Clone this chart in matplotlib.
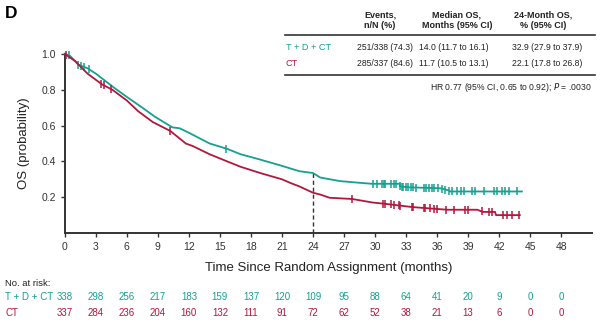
import numpy as np
import matplotlib.pyplot as plt
from matplotlib.transforms import blended_transform_factory

plt.rcParams['font.family'] = ['Liberation Sans Narrow', 'Liberation Sans', 'DejaVu Sans']

TEAL = "#16a091"
RED = "#b3173c"

# Kaplan-Meier curves (months, OS probability)
tdct_t = [0, 0.5, 1.0, 1.3, 2.2, 3.0, 4.8, 6, 7.5, 8.7, 10.4, 11.1, 12, 14, 15.7, 17,
          18.9, 21, 22.7, 24, 24.7, 26.6, 28.6, 29.7, 32.4, 32.4, 33.4, 36.3, 37.0,
          37.3, 44.2]
tdct_s = [1.0, 0.99, 0.96, 0.94, 0.92, 0.89, 0.81, 0.76, 0.70, 0.65, 0.59, 0.585,
          0.56, 0.50, 0.47, 0.44, 0.41, 0.375, 0.345, 0.335, 0.31, 0.29, 0.28, 0.275,
          0.275, 0.26, 0.255, 0.25, 0.24, 0.232, 0.232]

ct_t = [0, 0.5, 1.0, 2.2, 3.6, 4.6, 6, 7.1, 8.5, 10.2, 11.7, 12.4, 14, 15.7, 17, 18.9,
        21, 21.8, 22.7, 24, 24.7, 25.6, 27.8, 29.8, 31, 33.6, 34.7, 37, 39.9, 40.4,
        41.6, 41.7, 44]
ct_s = [1.0, 0.98, 0.96, 0.89, 0.83, 0.80, 0.74, 0.68, 0.62, 0.57, 0.50, 0.485, 0.44,
        0.40, 0.37, 0.335, 0.30, 0.28, 0.26, 0.225, 0.215, 0.197, 0.19, 0.17, 0.163,
        0.145, 0.14, 0.13, 0.13, 0.118, 0.118, 0.10, 0.10]

# censoring times
tdct_cens = [0.4, 1.3, 1.6, 1.9, 2.3, 15.6, 29.8, 30.2, 30.7, 30.9, 31.0, 31.5, 31.8,
             32.0, 32.4, 32.6, 32.7, 33.0, 33.2, 33.5, 33.7, 34.0, 34.7, 34.9, 35.2,
             35.5, 35.7, 36.1, 36.5, 36.8, 37.2, 37.4, 37.9, 38.3, 38.6, 39.4, 39.7,
             40.5, 41.5, 41.8, 42.3, 42.6, 43.0, 43.7]
ct_cens = [0.1, 3.5, 3.8, 4.5, 10.2, 27.8, 30.8, 31.0, 31.5, 31.8, 32.3, 32.4, 33.6,
           33.7, 34.7, 34.8, 35.3, 35.7, 36.0, 36.9, 37.6, 38.7, 39.0, 40.3, 41.0, 41.3,
           42.4, 42.8, 43.2, 43.9]

risk_times = list(range(0, 49, 3))
tdct_risk = [338, 298, 256, 217, 183, 159, 137, 120, 109, 95, 88, 64, 41, 20, 9, 0, 0]
ct_risk = [337, 284, 236, 204, 160, 132, 111, 91, 72, 62, 52, 38, 21, 13, 6, 0, 0]

fig = plt.figure(figsize=(6, 3.25), dpi=100)
ax = fig.add_axes([0.108, 0.283, 0.879, 0.551])

for t, s, cens, col in [(tdct_t, tdct_s, tdct_cens, TEAL), (ct_t, ct_s, ct_cens, RED)]:
    ax.plot(t, s, color=col, lw=1.3, clip_on=False, zorder=3)
    ax.plot(cens, np.interp(cens, t, s), ls="none", marker="|", ms=6, mew=1.1,
            color=col, clip_on=False, zorder=3)

# 24-month reference line
ax.plot([24, 24], [0, np.interp(24, tdct_t, tdct_s)], ls=(0, (3, 2)), color="#333333", lw=1.0)

ax.set_xlim(0, 51)
ax.set_ylim(0, 1.0)
ax.set_xticks(risk_times)
ax.set_yticks([0.2, 0.4, 0.6, 0.8, 1.0])
ax.set_yticklabels(["0.2", "0.4", "0.6", "0.8", "1.0"])
for sp in ["top", "right"]:
    ax.spines[sp].set_visible(False)
for sp in ["left", "bottom"]:
    ax.spines[sp].set_linewidth(1.4)
    ax.spines[sp].set_color("#333333")
ax.tick_params(labelsize=7.5, width=1.0, length=3, color="#333333", labelcolor="#333333")
ax.set_xlabel("Time Since Random Assignment (months)", fontsize=9.5, color="#222222", labelpad=7)
ax.set_ylabel("OS (probability)", fontsize=9.5, color="#222222", labelpad=8)

fig.text(0.008, 0.96, "D", fontsize=12.5, fontweight="bold", va="center")

# summary table
hdr_y = 1 - 20 / 325
fig.text(380 / 600, hdr_y, "Events,\nn/N (%)", ha="center", va="center", fontsize=6.5,
         fontweight="bold", linespacing=1.15, color="#222222")
fig.text(457 / 600, hdr_y, "Median OS,\nMonths (95% CI)", ha="center", va="center",
         fontsize=6.5, fontweight="bold", linespacing=1.15, color="#222222")
fig.text(543 / 600, hdr_y, "24-Month OS,\n% (95% CI)", ha="center", va="center",
         fontsize=6.5, fontweight="bold", linespacing=1.15, color="#222222")
fig.add_artist(plt.Line2D([285 / 600, 595 / 600], [1 - 35 / 325] * 2, color="#333333", lw=1.2))
fig.add_artist(plt.Line2D([285 / 600, 595 / 600], [1 - 75 / 325] * 2, color="#333333", lw=1.2))

rows = [("T + D + CT", "251/338 (74.3)", "14.0 (11.7 to 16.1)", "32.9 (27.9 to 37.9)", TEAL, 48),
        ("CT", "285/337 (84.6)", "11.7 (10.5 to 13.1)", "22.1 (17.8 to 26.8)", RED, 63)]
for name, ev, med, m24, col, py in rows:
    y = 1 - py / 325
    fig.text(286 / 600, y, name, color=col, fontsize=6.6, va="center")
    fig.text(357 / 600, y, ev, color="#222222", fontsize=6.2, va="center")
    fig.text(419 / 600, y, med, color="#222222", fontsize=6.2, va="center")
    fig.text(512 / 600, y, m24, color="#222222", fontsize=6.2, va="center")
fig.text(592 / 600, 1 - 87 / 325, "HR 0.77 (95% CI, 0.65 to 0.92); $\\it{P}$ = .0030",
         ha="right", va="center", fontsize=6.2, color="#222222")

# number at risk
trans = blended_transform_factory(ax.transData, fig.transFigure)
fig.text(5 / 600, 1 - 284 / 325, "No. at risk:", fontsize=6.8, va="center", color="#222222")
for label, vals, col, py in [("T + D + CT", tdct_risk, TEAL, 297), ("CT", ct_risk, RED, 313)]:
    y = 1 - py / 325
    fig.text(5 / 600, y, label, fontsize=7, va="center", color=col)
    for t, v in zip(risk_times, vals):
        ax.text(t, y, str(v), transform=trans, ha="center", va="center", fontsize=7, color=col)

fig.savefig("out.png", dpi=100)
